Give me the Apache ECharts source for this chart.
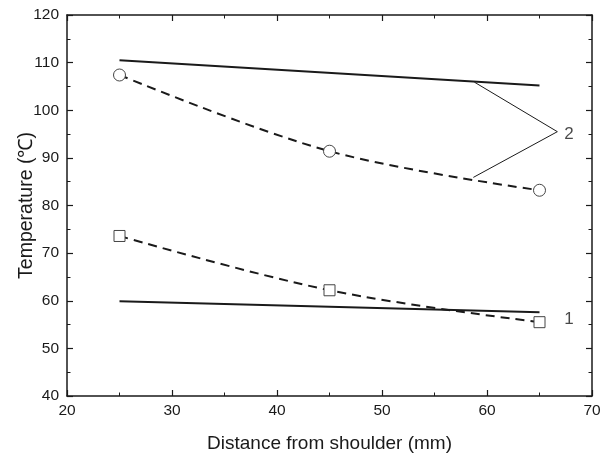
<!DOCTYPE html>
<html>
<head>
<meta charset="utf-8">
<script src="https://cdn.jsdelivr.net/npm/echarts@6/dist/echarts.min.js"></script>
<style>
  html, body { margin: 0; padding: 0; background: #fff; }
  #chart { width: 613px; height: 460px; }
</style>
</head>
<body>
<div id="chart"></div>
<script>
// distance from shoulder (mm)
const xs = [25, 45, 65]
const lineEnds = [25, 65]

// curve 2 (upper)
const solid2 = [110.5, 105.2]
const dashed2 = [107.4, 91.4, 83.2]
// curve 1 (lower)
const solid1 = [59.9, 57.6]
const dashed1 = [73.6, 62.2, 55.5]

// leader lines pointing to label "2"
const leader2 = [[58.8, 105.9], [66.7, 95.5], [58.7, 85.9]]
const labels = [{ name: '2', pos: [67.8, 95.0] }, { name: '1', pos: [67.8, 56.1] }]

const font = 'Liberation Sans, Arial, sans-serif'
const ink = '#1a1a1a'

const pair = (x, y) => x.map((v, i) => [v, y[i]])

const chart = echarts.init(document.getElementById('chart'))
const axisBase = {
  type: 'value',
  axisLine: { show: true, onZero: false, lineStyle: { color: ink, width: 1.5 } },
  axisTick: { show: true, inside: true, length: 6, lineStyle: { color: ink, width: 1.2 } },
  minorTick: { show: true, splitNumber: 2, length: 3.5, lineStyle: { color: ink, width: 1 } },
  splitLine: { show: false }
}
chart.setOption({
  animation: false,
  grid: { left: 67, right: 21, top: 15, bottom: 64, outerBoundsMode: 'none' },
  xAxis: [
    Object.assign({}, axisBase, {
      min: 20, max: 70, interval: 10,
      name: 'Distance from shoulder (mm)', nameLocation: 'middle', nameGap: 38, nameMoveOverlap: false,
      nameTextStyle: { fontFamily: font, fontSize: 19, color: ink },
      axisLabel: { fontFamily: font, fontSize: 15.5, color: ink, margin: 7 }
    }),
    Object.assign({}, axisBase, { min: 20, max: 70, interval: 10, position: 'top', axisLabel: { show: false } })
  ],
  yAxis: [
    Object.assign({}, axisBase, {
      min: 40, max: 120, interval: 10,
      name: 'Temperature (℃)', nameLocation: 'middle', nameGap: 30, nameRotate: 90, nameMoveOverlap: false,
      nameTextStyle: { fontFamily: font, fontSize: 19.5, color: ink },
      axisLabel: { fontFamily: font, fontSize: 15.5, color: ink, margin: 8 }
    }),
    Object.assign({}, axisBase, { min: 40, max: 120, interval: 10, position: 'right', axisLabel: { show: false } })
  ],
  series: [
    {
      type: 'line', data: pair(lineEnds, solid2), symbol: 'none',
      lineStyle: { color: ink, width: 2 }
    },
    {
      type: 'line', data: pair(xs, dashed2), smooth: 0.35,
      symbol: 'circle', symbolSize: 12,
      itemStyle: { color: '#fff', borderColor: '#444', borderWidth: 1 },
      lineStyle: { color: ink, width: 2, type: [9, 6] }
    },
    {
      type: 'line', data: pair(lineEnds, solid1), symbol: 'none',
      lineStyle: { color: ink, width: 2 }
    },
    {
      type: 'line', data: pair(xs, dashed1), smooth: 0.35,
      symbol: 'rect', symbolSize: 11,
      itemStyle: { color: '#fff', borderColor: '#444', borderWidth: 1 },
      lineStyle: { color: ink, width: 2, type: [9, 6] }
    },
    {
      type: 'line', data: leader2, symbol: 'none',
      lineStyle: { color: ink, width: 1 }
    },
    {
      type: 'scatter', symbolSize: 0,
      data: labels.map(l => ({ name: l.name, value: l.pos })),
      label: { show: true, position: 'inside', formatter: '{b}', fontFamily: font, fontSize: 17, color: ink }
    }
  ]
})
</script>
</body>
</html>
